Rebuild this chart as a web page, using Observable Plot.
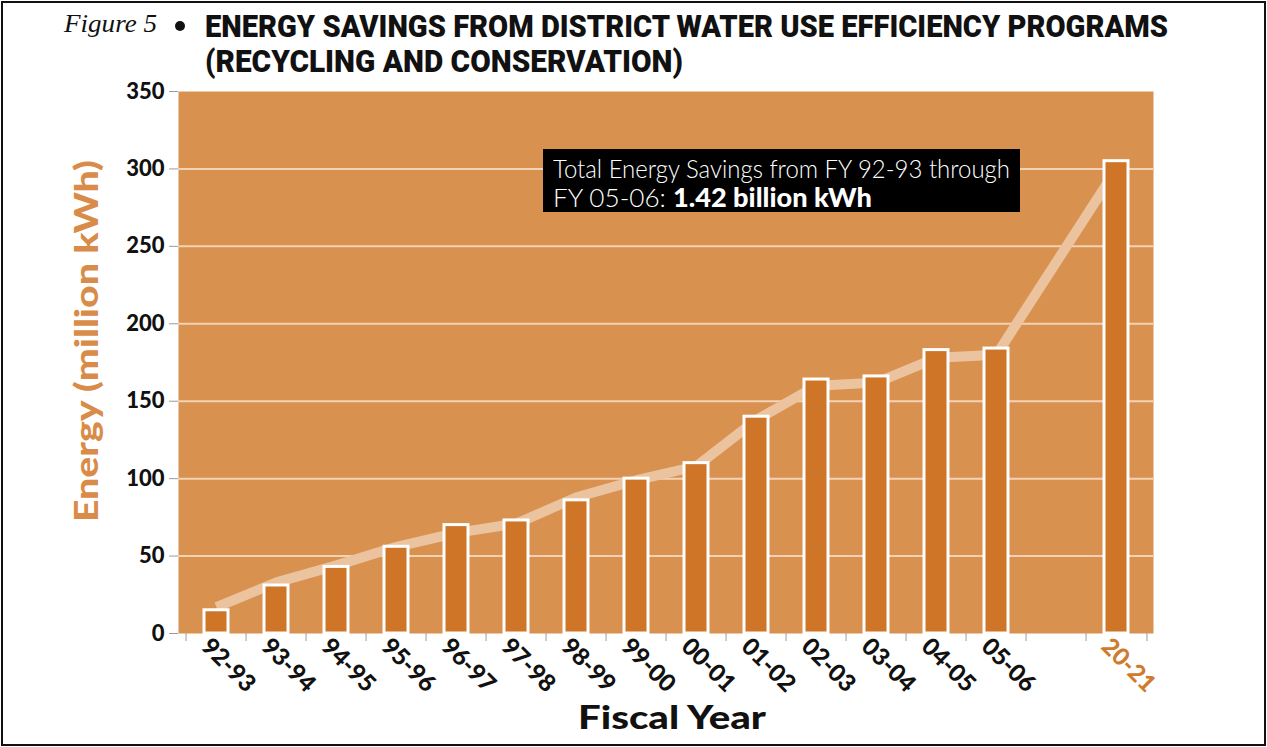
<!DOCTYPE html>
<html><head><meta charset="utf-8">
<script src="https://cdn.jsdelivr.net/npm/d3@7"></script>
<script src="https://cdn.jsdelivr.net/npm/@observablehq/plot@0.6"></script>
<style>
html,body{margin:0;padding:0;background:#fff;}
#wrap{position:relative;width:1267px;height:747px;overflow:hidden;font-family:Lato,"DejaVu Sans",sans-serif;color:#111;}
#border{position:absolute;left:1px;top:1px;right:1px;bottom:1px;border:2px solid #111;pointer-events:none;}
.t{position:absolute;white-space:nowrap;line-height:1;transform-origin:0 0;}
#head{position:relative;height:80px;}
#chart svg{display:block;}
#note{position:absolute;left:543px;top:149px;width:477px;height:63px;background:#000;color:#fff;box-sizing:border-box;}
#bul{position:absolute;left:175px;top:21px;width:10px;height:10px;border-radius:50%;background:#111;}
</style></head>
<body><div id="wrap">
<div id="head">
  <span class="t" id="fig" style="left:64px;top:11px;font-family:'Liberation Serif',serif;font-style:italic;font-size:26px;">Figure 5</span>
  <span id="bul" role="img" aria-label="bullet"></span>
  <span class="t" id="t1" style="left:205px;top:11px;font-family:Roboto,sans-serif;font-size:31px;font-weight:900;">ENERGY SAVINGS FROM DISTRICT WATER USE EFFICIENCY PROGRAMS</span>
  <span class="t" id="t2" style="left:205px;top:46px;font-family:Roboto,sans-serif;font-size:31px;font-weight:900;">(RECYCLING AND CONSERVATION)</span>
</div>
<div id="chart"></div>
<div id="note">
  <span class="t" id="n1" style="left:10px;top:7px;font-family:Lato,sans-serif;font-weight:300;font-size:25px;">Total Energy Savings from FY 92-93 through</span>
  <span class="t" id="n2" style="left:10px;top:35px;font-family:Lato,sans-serif;font-weight:300;font-size:25px;">FY 05-06: <b style="font-weight:900;font-size:26px;">1.42 billion kWh</b></span>
</div>
<span class="t" id="ylab" style="left:85px;top:341px;font-family:Lato,sans-serif;font-weight:900;font-size:33px;color:#d98c4a;transform-origin:50% 50%;">Energy (million kWh)</span>
<span class="t" id="xlab" style="left:578px;top:700px;font-family:Lato,sans-serif;font-weight:900;font-size:33px;">Fiscal Year</span>
<div id="border"></div>
</div>
<script>
// ---- data ----
const years = ["92-93","93-94","94-95","95-96","96-97","97-98","98-99","99-00","00-01","01-02","02-03","03-04","04-05","05-06","","20-21"];
const categories = ["92-93","93-94","94-95","95-96","96-97","97-98","98-99","99-00","00-01","01-02","02-03","03-04","04-05","05-06","20-21"];
const savings = [15,31,43,56,70,73,86,100,110,140,164,166,183,184,305];
const trend = [17,33,44,56,65,71,88,99,108,138,160,162,178,180,300];
const yTicks = [0,50,100,150,200,250,300,350];

const bg = "#d99150", barFill = "#cf7528", trendColor = "#ebc39e", gridColor = "#f3d3b3", orange = "#d07a2c";
const W = 1267, H = 667, mL = 178, mR = 114, mT = 11, mB = 114;
const step = (W - mL - mR) / years.length;

const rows = categories.map((c, i) => ({year: c, value: savings[i], trend: trend[i]}));

const chart = Plot.plot({
  width: W, height: H,
  marginLeft: mL, marginRight: mR, marginTop: mT, marginBottom: mB,
  style: {fontFamily: "Lato, 'DejaVu Sans', sans-serif", background: "transparent", overflow: "visible"},
  x: {type: "band", domain: years, paddingInner: 0.6, paddingOuter: 0.3, label: null},
  y: {domain: [0, 350], label: null},
  marks: [
    Plot.frame({fill: bg, stroke: null}),
    Plot.gridY(yTicks.slice(1, -1), {stroke: gridColor, strokeOpacity: 1, strokeWidth: 2}),
    Plot.line(rows, {x: "year", y: "trend", stroke: trendColor, strokeWidth: 10, strokeLinejoin: "miter", strokeLinecap: "butt"}),
    Plot.barY(rows, {x: "year", y: "value", fill: barFill, stroke: "white", strokeWidth: 3}),
    Plot.axisY({ticks: yTicks, tickSize: 9, tickPadding: 5, stroke: "#9a9a9a", fill: "#111", fontSize: 22, fontWeight: 900, label: null}),
    Plot.axisX({ticks: years, tickSize: 8, tickFormat: () => "", stroke: "#9a9a9a", dx: -step / 2, label: null}),
    Plot.axisX({ticks: ["20-21"], tickSize: 8, tickFormat: () => "", stroke: "#9a9a9a", dx: step / 2, label: null}),
    Plot.axisX({ticks: categories.slice(0, -1), tickSize: 0, tickPadding: 9, dx: -11, tickRotate: 45, fill: "#111", fontSize: 24, fontWeight: 900, label: null}),
    Plot.axisX({ticks: ["20-21"], tickSize: 0, tickPadding: 9, dx: -11, tickRotate: 45, fill: orange, fontSize: 24, fontWeight: 900, label: null})
  ]
});
document.getElementById("chart").appendChild(chart);
chart.querySelectorAll('[aria-label="x-axis tick label"]').forEach(g => { g.style.fontWeight = "900"; g.style.fontSize = "24px"; });
chart.querySelectorAll('[aria-label="y-axis tick label"]').forEach(g => { g.style.fontWeight = "900"; g.style.fontSize = "22px"; });

function fit(id, w) {
  const el = document.getElementById(id);
  const nat = el.getBoundingClientRect().width;
  el.style.transform = `scaleX(${w / nat})`;
}
fit("fig", 93); fit("t1", 963); fit("t2", 478); fit("n1", 457); fit("n2", 319);
fit("xlab", 188);
const yl = document.getElementById("ylab");
const yw = yl.getBoundingClientRect().width;
yl.style.transform = `translate(-50%,-50%) rotate(-90deg) scaleX(${362 / yw})`;
</script>
</body></html>
